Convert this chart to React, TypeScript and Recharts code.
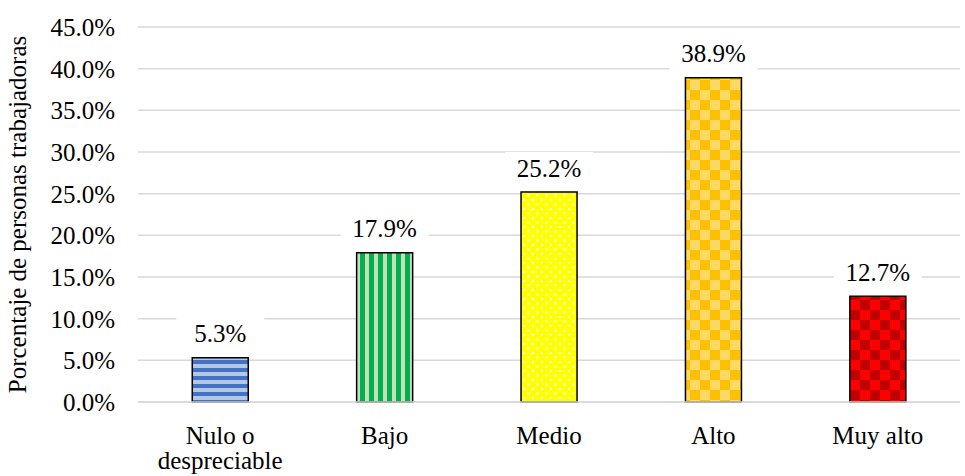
import { BarChart, Bar, XAxis, YAxis, CartesianGrid, Cell, LabelList } from 'recharts';

const categories = ['Nulo o despreciable', 'Bajo', 'Medio', 'Alto', 'Muy alto'];
const percentages = [5.3, 17.9, 25.2, 38.9, 12.7];
const yTicks = [0, 5, 10, 15, 20, 25, 30, 35, 40, 45];
const patternIds = ['pStripeH', 'pStripeV', 'pDots', 'pCheckO', 'pCheckR'];

const data = categories.map((name, i) => ({ name, value: percentages[i] }));

const FONT = '"Liberation Serif", "Times New Roman", serif';
const textStyle = { fontFamily: FONT, fontSize: 25, fill: '#000' };

// greedy wrap, roughly what Excel does in the narrow category slot
function wrap(label: string, max = 10) {
  const lines: string[] = [];
  let cur = '';
  label.split(' ').forEach((w) => {
    const next = cur ? `${cur} ${w}` : w;
    if (next.length > max && cur) {
      lines.push(cur);
      cur = w;
    } else {
      cur = next;
    }
  });
  if (cur) lines.push(cur);
  return lines;
}

function CategoryTick(props: any) {
  const { x, y, payload } = props;
  const lines = wrap(String(payload.value));
  return (
    <text x={x} y={y} textAnchor="middle" style={textStyle}>
      {lines.map((l, i) => (
        <tspan key={i} x={x} y={y + 34 + i * 25}>
          {l}
        </tspan>
      ))}
    </text>
  );
}

function ValueLabel(props: any) {
  const { x, y, width, value } = props;
  const cx = x + width / 2;
  const cy = y - 24;
  const text = `${Number(value).toFixed(1)}%`;
  return (
    <g>
      <rect x={cx - 44} y={cy - 16} width={88} height={32} fill="#fff" />
      <text x={cx} y={cy} textAnchor="middle" dominantBaseline="central" style={textStyle}>
        {text}
      </text>
    </g>
  );
}

export default function App() {
  return (
    <div style={{ position: 'absolute', left: 0, top: 0, width: 965, height: 476, background: '#fff' }}>
      <BarChart
        width={965}
        height={476}
        data={data}
        margin={{ top: 27, right: 5, left: 0, bottom: 0 }}
        barCategoryGap="33%"
      >
        <defs>
          <pattern id="pStripeH" width="8" height="8" patternUnits="userSpaceOnUse">
            <rect width="8" height="8" fill="#B4C7E7" />
            <rect width="8" height="4" fill="#4472C4" />
          </pattern>
          <pattern id="pStripeV" width="9" height="9" patternUnits="userSpaceOnUse">
            <rect width="9" height="9" fill="#C5E0B4" />
            <rect width="5" height="9" fill="#00B050" />
          </pattern>
          <pattern id="pDots" width="9" height="9" patternUnits="userSpaceOnUse">
            <rect width="9" height="9" fill="#FFFF00" />
            <rect x="1" y="1" width="2" height="2" fill="#FFFFFF" />
            <rect x="5.5" y="5.5" width="2" height="2" fill="#FFFFFF" />
          </pattern>
          <pattern id="pCheckO" width="20" height="20" patternUnits="userSpaceOnUse">
            <rect width="20" height="20" fill="#FFD966" />
            <rect width="10" height="10" fill="#FFC000" />
            <rect x="10" y="10" width="10" height="10" fill="#FFC000" />
          </pattern>
          <pattern id="pCheckR" width="20" height="20" patternUnits="userSpaceOnUse">
            <rect width="20" height="20" fill="#FF0000" />
            <rect width="10" height="10" fill="#C00000" />
            <rect x="10" y="10" width="10" height="10" fill="#C00000" />
          </pattern>
        </defs>
        <CartesianGrid vertical={false} stroke="#D9D9D9" strokeWidth={1.5} />
        <XAxis
          dataKey="name"
          interval={0}
          height={74}
          tickLine={false}
          axisLine={{ stroke: '#D9D9D9', strokeWidth: 1.5 }}
          tick={<CategoryTick />}
        />
        <YAxis
          width={138}
          domain={[0, 45]}
          ticks={yTicks}
          interval={0}
          axisLine={false}
          tickLine={false}
          tickSize={0}
          tickMargin={23}
          tickFormatter={(v: number) => `${v.toFixed(1)}%`}
          tick={textStyle}
          label={{
            value: 'Porcentaje de personas trabajadoras',
            angle: -90,
            position: 'insideLeft',
            dx: 12,
            style: { ...textStyle, textAnchor: 'middle' },
          }}
        />
        <Bar dataKey="value" isAnimationActive={false} stroke="#000" strokeWidth={1.5}>
          {data.map((d, i) => (
            <Cell key={d.name} fill={`url(#${patternIds[i]})`} />
          ))}
          <LabelList dataKey="value" content={<ValueLabel />} />
        </Bar>
      </BarChart>
    </div>
  );
}
